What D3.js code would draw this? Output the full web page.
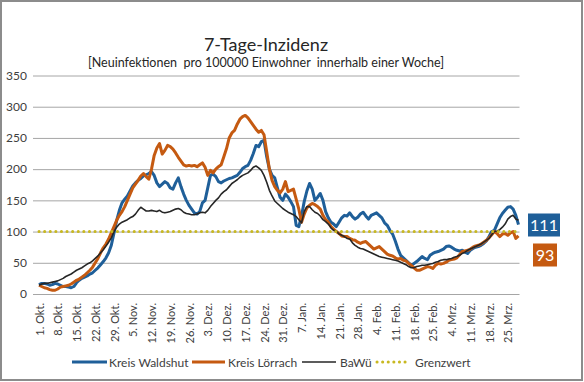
<!DOCTYPE html>
<html><head><meta charset="utf-8">
<script src="https://cdn.jsdelivr.net/npm/d3@7"></script>
<style>
html,body{margin:0;padding:0;background:#fff;}
svg{display:block;font-family:Lato,"Open Sans",sans-serif;}
</style></head>
<body><svg id="c" width="584" height="382"></svg>
<script>
const title = "7-Tage-Inzidenz";
const subtitle = "[Neuinfektionen  pro 100000 Einwohner  innerhalb einer Woche]";
const yTicks = [0, 50, 100, 150, 200, 250, 300, 350];
const xTickLabels = ["1. Okt.","8. Okt.","15. Okt.","22. Okt.","29. Okt.","5. Nov.","12. Nov.","19. Nov.","26. Nov.","3. Dez.","10. Dez.","17. Dez.","24. Dez.","31. Dez.","7. Jan.","14. Jan.","21. Jan.","28. Jan.","4. Feb.","11. Feb.","18. Feb.","25. Feb.","4. Mrz.","11. Mrz.","18. Mrz.","25. Mrz."];
const seriesNames = ["Kreis Waldshut", "Kreis Lörrach", "BaWü", "Grenzwert"];
const waldshut = [15,17,17,16,14,15,17,16,14,12,12,11,10,12,18,22,25,27,29,32,34,38,42,47,52,58,66,78,98,118,134,146,152,157,165,173,178,182,185,189,191,193,196,190,178,172,176,180,177,170,168,178,186,172,160,150,142,136,130,128,132,146,150,170,190,192,188,180,178,181,183,185,186,188,190,195,201,204,206,214,225,238,236,244,246,220,200,190,186,170,155,150,160,155,148,140,110,108,125,148,165,177,168,150,155,161,150,132,122,115,112,108,115,122,126,125,130,124,120,123,128,131,125,120,126,128,130,126,122,114,110,102,96,85,72,62,58,54,50,46,49,52,56,60,57,55,62,65,67,68,70,72,76,77,75,72,70,69,70,67,65,70,73,75,76,78,81,85,92,100,102,112,122,129,134,139,140,136,126,111];
const loerrach = [14,12,10,9,7,6,6,8,11,12,13,14,16,19,22,24,27,30,34,38,43,50,57,66,74,80,88,98,108,118,126,132,140,150,160,170,176,182,189,193,188,184,200,222,234,241,224,230,238,236,232,226,219,213,207,205,206,205,206,204,207,210,203,190,198,194,200,204,207,220,233,250,258,262,272,280,284,286,282,276,270,264,259,262,255,228,200,182,172,166,162,168,180,164,166,168,152,136,115,128,138,142,145,143,140,136,126,119,115,108,104,100,97,93,92,92,89,87,86,83,81,83,84,80,76,72,74,76,72,68,64,62,61,58,56,57,54,53,49,46,42,38,38,40,42,44,43,41,46,49,48,49,51,54,55,56,58,63,68,69,70,72,75,77,78,80,83,86,90,95,100,97,92,96,97,94,98,100,89,93];
const bawue = [14,16,17,17,18,19,20,21,23,25,28,30,32,35,38,40,42,45,48,50,53,57,61,66,71,77,83,90,100,107,112,115,117,119,122,124,128,134,139,136,133,133,134,133,132,134,131,130,131,132,134,136,137,135,131,129,128,127,127,128,130,131,130,134,140,145,150,154,160,164,167,172,177,180,183,187,190,192,194,198,203,205,202,198,190,179,166,157,149,145,141,137,134,131,129,127,124,119,114,132,140,140,135,131,129,125,119,116,112,106,102,101,96,94,92,89,88,82,78,75,73,72,70,68,66,64,62,60,59,58,57,56,55,54,53,51,49,47,44,42,42,44,45,46,46,47,48,49,51,52,54,55,55,56,57,59,60,62,65,67,70,72,74,76,78,80,83,86,89,95,100,101,103,107,112,120,124,126,120,118];
const grenzwert = 100;
const lastValues = [111, 93];

const colors = {waldshut:"#1f5f99", loerrach:"#c55a11", bawue:"#262626", grenz:"#c8b820"};

const svg = d3.select("#c");
// outer frame
svg.append("rect").attr("x",1).attr("y",1).attr("width",581).attr("height",379)
  .attr("fill","#fff").attr("stroke","#8c8c8c").attr("stroke-width",2);

const n = waldshut.length;
const x = d3.scaleLinear().domain([0, n - 1]).range([39, 518.5]);
const y = d3.scaleLinear().domain([0, 350]).range([294, 75.5]);

// title
svg.append("text").attr("x",266).attr("y",51).attr("text-anchor","middle")
  .attr("font-size",18).attr("fill","#262626").text(title);
svg.append("text").attr("x",266).attr("y",67).attr("text-anchor","middle")
  .attr("font-size",12.5).attr("fill","#262626").style("white-space","pre").text(subtitle);

// grid + y axis
const yAxis = d3.axisLeft(y).tickValues(yTicks).tickSize(-(519.5-33)).tickPadding(6);
const gy = svg.append("g").attr("transform","translate(33,0)").call(yAxis);
gy.select(".domain").remove();
gy.selectAll(".tick line").attr("stroke","#a6a6a6").attr("stroke-width",1);
gy.selectAll(".tick text").attr("font-size",12).attr("fill","#404040")
  .attr("font-family","Lato,sans-serif");

// x axis labels
const tickDays = xTickLabels.map((d,i)=>i*7);
const xAxis = d3.axisBottom(x).tickValues(tickDays).tickFormat((d,i)=>xTickLabels[i]).tickSize(0).tickPadding(0);
const gx = svg.append("g").attr("transform","translate(0,294)").call(xAxis);
gx.select(".domain").remove();
gx.selectAll(".tick text")
  .attr("font-size",11).attr("fill","#404040").attr("font-family","Lato,sans-serif")
  .attr("text-anchor","end").attr("dy",null).attr("y",0)
  .attr("transform","translate(4,9) rotate(-90)");

const line = d3.line().x((d,i)=>x(i)).y(d=>y(d)).curve(d3.curveLinear);
const g = svg.append("g");
g.append("path").datum(waldshut).attr("d",line).attr("fill","none")
  .attr("stroke",colors.waldshut).attr("stroke-width",3).attr("stroke-linejoin","round");
g.append("path").datum(loerrach).attr("d",line).attr("fill","none")
  .attr("stroke",colors.loerrach).attr("stroke-width",3).attr("stroke-linejoin","round");
g.append("path").datum(bawue).attr("d",line).attr("fill","none")
  .attr("stroke",colors.bawue).attr("stroke-width",1.6).attr("stroke-linejoin","round");
g.append("line").attr("x1",x(0)).attr("x2",x(n-1)).attr("y1",y(grenzwert)).attr("y2",y(grenzwert))
  .attr("stroke",colors.grenz).attr("stroke-width",3).attr("stroke-linecap","round")
  .attr("stroke-dasharray","0.1,5.5");

// end value boxes
const boxes = [
  {v:lastValues[0], c:colors.waldshut, x:528, w:32, yc:225},
  {v:lastValues[1], c:colors.loerrach, x:533, w:24, yc:255}
];
boxes.forEach(b=>{
  svg.append("rect").attr("x",b.x).attr("y",b.yc-11.5).attr("width",b.w).attr("height",23).attr("fill",b.c);
  svg.append("text").attr("x",b.x+b.w/2).attr("y",b.yc+6).attr("text-anchor","middle")
    .attr("font-size",16).attr("fill","#fff").text(b.v);
});

// legend
const legend = [
  {name:seriesNames[0], c:colors.waldshut, w:3, x0:72, x1:107, dash:null, tx:109},
  {name:seriesNames[1], c:colors.loerrach, w:3, x0:192, x1:225, dash:null, tx:228},
  {name:seriesNames[2], c:colors.bawue, w:1.6, x0:302, x1:336, dash:null, tx:340},
  {name:seriesNames[3], c:colors.grenz, w:3, x0:377, x1:409, dash:"0.1,5.5", tx:415}
];
const ly = 362;
legend.forEach(l=>{
  const ln = svg.append("line").attr("x1",l.x0).attr("x2",l.x1).attr("y1",ly).attr("y2",ly)
    .attr("stroke",l.c).attr("stroke-width",l.w);
  if(l.dash) ln.attr("stroke-dasharray",l.dash).attr("stroke-linecap","round");
  svg.append("text").attr("x",l.tx).attr("y",ly+4.5).attr("font-size",12).attr("fill","#404040").text(l.name);
});
</script></body></html>
